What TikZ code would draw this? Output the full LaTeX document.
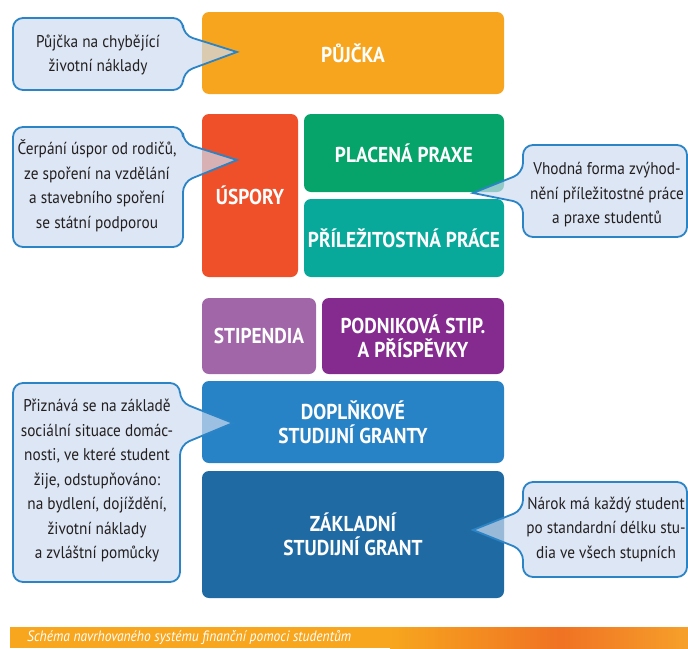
\documentclass[tikz,border=0pt]{standalone}
\usepackage{fontspec}
\setmainfont[FakeStretch=0.90]{PT Sans}
\usetikzlibrary{calc}
\definecolor{cOrange}{HTML}{F7A51E}
\definecolor{cRed}{HTML}{EF5029}
\definecolor{cGreen}{HTML}{06A46B}
\definecolor{cTeal}{HTML}{08A99B}
\definecolor{cLPurple}{HTML}{A066A8}
\definecolor{cPurple}{HTML}{852B8F}
\definecolor{cBlue}{HTML}{2883C6}
\definecolor{cDBlue}{HTML}{1F6AA3}
\definecolor{cCallFill}{RGB}{205,219,239}
\definecolor{cCallLine}{HTML}{2B84C6}
\definecolor{cText}{HTML}{231F20}
\definecolor{barA}{HTML}{F7A61E}
\definecolor{barB}{HTML}{F07223}
\definecolor{barC}{HTML}{F6A02A}
\newcommand\calloutRight[8]{%
  \filldraw[callout] (#1,{(#2+#4)/2}) [rounded corners=10pt] -- (#1,#2) -- (#3,#2) -- (#3,#7)
    [sharp corners] -- (#5,#6) [rounded corners=10pt] -- (#3,#8) -- (#3,#4) -- (#1,#4) -- cycle;}
\newcommand\calloutLeft[8]{%
  \filldraw[callout] (#3,{(#2+#4)/2}) [rounded corners=10pt] -- (#3,#4) -- (#1,#4) -- (#1,#8)
    [sharp corners] -- (#5,#6) [rounded corners=10pt] -- (#1,#7) -- (#1,#2) -- (#3,#2) -- cycle;}
\begin{document}
\begin{tikzpicture}[x=1pt,y=-1pt,
  box/.style={rectangle, rounded corners=7pt, draw=none, inner sep=0pt, outer sep=0pt,
    text=white, align=center, font=\fontsize{21.5}{24}\selectfont\bfseries},
  callout/.style={fill=cCallFill, fill opacity=0.7, draw=cCallLine, draw opacity=1, line width=1.8pt, line join=miter},
  calltext/.style={text=cText, align=center, inner sep=0pt, font=\fontsize{17}{24.5}\selectfont}]
\useasboundingbox (0,0) rectangle (688,648);
% boxes
\node[box, fill=cOrange, minimum width=302pt, minimum height=82pt] (pujcka) at (353,53) {PŮJČKA};
\node[box, fill=cRed, minimum width=96pt, minimum height=163pt] (uspory) at (250,195.5) {ÚSPORY};
\node[box, fill=cGreen, minimum width=200pt, minimum height=78pt] (placena) at (404,153) {PLACENÁ PRAXE};
\node[box, fill=cTeal, minimum width=200pt, minimum height=78pt] (prilez) at (404,238) {PŘÍLEŽITOSTNÁ PRÁCE};
\node[box, fill=cLPurple, minimum width=114pt, minimum height=76pt] (stip) at (259,336) {STIPENDIA};
\node[box, fill=cPurple, minimum width=182pt, minimum height=76pt] (podnik) at (413,336) {PODNIKOVÁ STIP.\\A PŘÍSPĚVKY};
\node[box, fill=cBlue, minimum width=302pt, minimum height=82pt] (dopl) at (353,422) {DOPLŇKOVÉ\\STUDIJNÍ GRANTY};
\node[box, fill=cDBlue, minimum width=302pt, minimum height=127pt] (zakl) at (353,534.5) {ZÁKLADNÍ\\STUDIJNÍ GRANT};
% callouts
\calloutRight{13}{18}{183}{90}{237}{52}{35}{72}
\calloutRight{13}{127}{183}{247}{237}{160}{143}{182}
\calloutLeft{523}{145}{687}{237}{473}{193}{173}{203}
\calloutRight{13}{383}{180}{582}{233}{423}{402}{445}
\calloutLeft{523}{482}{687}{577}{473}{530}{510}{550}
\node[calltext] (c1) at (98,55) {Půjčka na chybějící\\životní náklady};
\node[calltext] (c2) at (97,186) {Čerpání úspor od rodičů,\\ze spoření na vzdělání\\a stavebního spoření\\se státní podporou};
\node[calltext] (c3) at (607,195) {Vhodná forma zvýhod-\\nění příležitostné práce\\a praxe studentů};
\node[calltext] (c4) at (97,481) {Přiznává se na základě\\sociální situace domác-\\nosti, ve které student\\žije, odstupňováno:\\na bydlení, dojíždění,\\životní náklady\\a zvláštní pomůcky};
\node[calltext] (c5) at (606,529) {Nárok má každý student\\po standardní délku stu-\\dia ve všech stupních};
% caption bar
\fill[barA] (10,627) rectangle (391,648);
\shade[left color=barA, right color=barB] (390,627) rectangle (561,648);
\shade[left color=barB, right color=barC] (560,627) rectangle (688,648);
\node[anchor=west, text=white, inner sep=0pt, font=\fontsize{15}{18}\selectfont\itshape] (cap) at (27,637.5) {Schéma navrhovaného systému finanční pomoci studentům};
\end{tikzpicture}
\end{document}
